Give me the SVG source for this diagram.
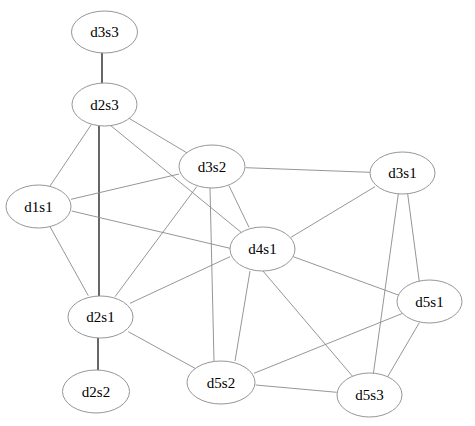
<svg xmlns="http://www.w3.org/2000/svg" width="475" height="426" viewBox="0 0 475 426">
<style>
.e{stroke:#8a8a8a;stroke-width:0.9;fill:none}
.b{stroke:#000;stroke-width:1.2;fill:none}
.n ellipse{fill:#fff;stroke:#8a8a8a;stroke-width:0.9}
.n text{font-family:"Liberation Serif",serif;font-size:15px;fill:#000;text-anchor:middle;dominant-baseline:central}
</style>
<rect width="475" height="426" fill="#fff"/>
<g id="edges">
<line class="b" x1="102" y1="53" x2="102" y2="83"/>
<line class="b" x1="99" y1="126" x2="99" y2="296"/>
<line class="b" x1="98" y1="338" x2="98" y2="370"/>
<line class="e" x1="91" y1="125" x2="50" y2="186"/>
<line class="e" x1="128" y1="117.7" x2="187.7" y2="153.3"/>
<line class="e" x1="110" y1="125" x2="242" y2="233"/>
<line class="e" x1="71" y1="199.3" x2="179" y2="174"/>
<line class="e" x1="71.7" y1="211" x2="230" y2="248.3"/>
<line class="e" x1="50" y1="226.7" x2="88.3" y2="295.7"/>
<line class="e" x1="115" y1="296.7" x2="196.7" y2="186.7"/>
<line class="e" x1="245.7" y1="167.7" x2="370" y2="172.3"/>
<line class="e" x1="229" y1="185.7" x2="249" y2="227.3"/>
<line class="e" x1="210" y1="188" x2="214" y2="361"/>
<line class="e" x1="130" y1="303.3" x2="230" y2="256.7"/>
<line class="e" x1="291" y1="237.3" x2="375" y2="186.7"/>
<line class="e" x1="293.3" y1="256.7" x2="398.3" y2="295"/>
<line class="e" x1="250" y1="271" x2="235" y2="361"/>
<line class="e" x1="262.7" y1="270.7" x2="352.3" y2="376"/>
<line class="e" x1="128.3" y1="331.7" x2="195" y2="368.3"/>
<line class="e" x1="407.7" y1="194" x2="419.3" y2="281.7"/>
<line class="e" x1="398.3" y1="194" x2="373.3" y2="374.3"/>
<line class="e" x1="402.7" y1="313.3" x2="254" y2="373.3"/>
<line class="e" x1="419.3" y1="322.7" x2="387.3" y2="377.3"/>
<line class="e" x1="255.7" y1="385" x2="336.7" y2="392.3"/>
</g>
<g id="d3s3" class="n"><ellipse cx="104.5" cy="32" rx="33" ry="21"/><text x="104.5" y="32">d3s3</text></g>
<g id="d2s3" class="n"><ellipse cx="104.5" cy="104.5" rx="32.5" ry="21.5"/><text x="104.5" y="104.5">d2s3</text></g>
<g id="d3s2" class="n"><ellipse cx="212" cy="166.5" rx="33" ry="21.5"/><text x="212" y="166.5">d3s2</text></g>
<g id="d1s1" class="n"><ellipse cx="38.5" cy="206.5" rx="32.5" ry="21.5"/><text x="38.5" y="206.5">d1s1</text></g>
<g id="d4s1" class="n"><ellipse cx="262.5" cy="249" rx="32.5" ry="22"/><text x="262.5" y="249">d4s1</text></g>
<g id="d3s1" class="n"><ellipse cx="402.5" cy="173" rx="32.5" ry="21"/><text x="402.5" y="173">d3s1</text></g>
<g id="d2s1" class="n"><ellipse cx="100.5" cy="317" rx="32.5" ry="21"/><text x="100.5" y="317">d2s1</text></g>
<g id="d5s1" class="n"><ellipse cx="429.5" cy="301.5" rx="32.5" ry="21.5"/><text x="429.5" y="301.5">d5s1</text></g>
<g id="d2s2" class="n"><ellipse cx="96" cy="391.5" rx="33.5" ry="21.5"/><text x="96" y="391.5">d2s2</text></g>
<g id="d5s2" class="n"><ellipse cx="221" cy="382.5" rx="34" ry="21.5"/><text x="221" y="382.5">d5s2</text></g>
<g id="d5s3" class="n"><ellipse cx="369.5" cy="395" rx="32.5" ry="22"/><text x="369.5" y="395">d5s3</text></g>
</svg>
